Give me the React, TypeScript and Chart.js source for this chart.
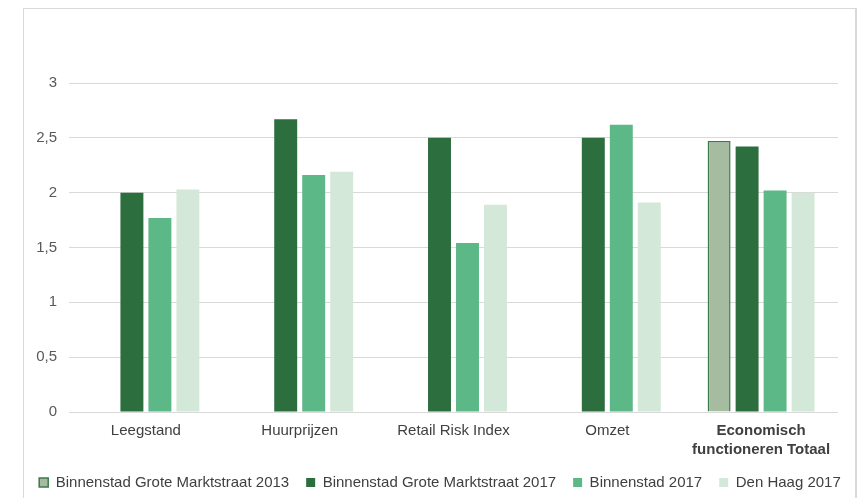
import React, { useEffect, useRef } from 'react';
import { Chart, registerables } from 'chart.js';

Chart.register(...registerables);

const categories: (string | string[])[] = [
  'Leegstand',
  'Huurprijzen',
  'Retail Risk Index',
  'Omzet',
  ['Economisch', 'functioneren Totaal'],
];

const seriesNames = [
  'Binnenstad Grote Marktstraat 2013',
  'Binnenstad Grote Marktstraat 2017',
  'Binnenstad 2017',
  'Den Haag 2017',
];

const grote2013: (number | null)[] = [null, null, null, null, 2.47];
const grote2017 = [2.0, 2.67, 2.5, 2.5, 2.42];
const binnenstad2017 = [1.77, 2.16, 1.54, 2.62, 2.02];
const denHaag2017 = [2.03, 2.19, 1.89, 1.91, 2.0];

const yTicks = [0, 0.5, 1, 1.5, 2, 2.5, 3];

const FONT = "'Liberation Sans', Arial, Helvetica, sans-serif";

export default function App() {
  const ref = useRef<HTMLCanvasElement | null>(null);

  useEffect(() => {
    if (!ref.current) return;
    const chart = new Chart(ref.current, {
      type: 'bar',
      data: {
        labels: categories,
        datasets: [
          {
            label: seriesNames[0],
            data: grote2013,
            backgroundColor: '#a6bca1',
            borderColor: '#3b7a4a',
            borderWidth: 1.5,
          },
          {
            label: seriesNames[1],
            data: grote2017,
            backgroundColor: '#2d6e3f',
            borderWidth: 0,
          },
          {
            label: seriesNames[2],
            data: binnenstad2017,
            backgroundColor: '#5db887',
            borderWidth: 0,
          },
          {
            label: seriesNames[3],
            data: denHaag2017,
            backgroundColor: '#d4e8d9',
            borderWidth: 0,
          },
        ],
      },
      options: {
        responsive: false,
        maintainAspectRatio: false,
        animation: false,
        datasets: {
          bar: {
            categoryPercentage: 0.728,
            barPercentage: 0.82,
          },
        },
        layout: {
          padding: { left: 12, right: 0, top: 83, bottom: -2 },
        },
        scales: {
          x: {
            grid: { display: false, drawTicks: false },
            border: { display: false },
            ticks: {
              padding: 9,
              maxRotation: 0,
              autoSkip: false,
              color: '#404040',
              font: (ctx: any) =>
                ctx.index === 4
                  ? { family: FONT, size: 15, weight: 'bold', lineHeight: 1.3 }
                  : { family: FONT, size: 15, weight: 'normal', lineHeight: 1.3 },
            },
            afterFit: (scale: any) => {
              scale.height = 46;
            },
          },
          y: {
            min: 0,
            max: 3,
            afterBuildTicks: (scale: any) => {
              scale.ticks = yTicks.map((v) => ({ value: v }));
            },
            grid: { color: '#d9d9d9', lineWidth: 1, drawTicks: false },
            border: { display: false },
            ticks: {
              padding: 12,
              color: '#595959',
              font: { family: FONT, size: 15 },
              callback: (v: any) => String(v).replace('.', ','),
            },
            afterFit: (scale: any) => {
              scale.width = 57;
            },
          },
          yRight: {
            type: 'linear',
            position: 'right',
            display: true,
            grid: { display: false, drawTicks: false },
            border: { display: false },
            ticks: { display: false },
            afterFit: (scale: any) => {
              scale.width = 30;
            },
          },
        },
        plugins: {
          title: { display: false },
          tooltip: { enabled: false },
          legend: {
            position: 'bottom',
            labels: {
              boxWidth: 9,
              boxHeight: 9,
              padding: 17,
              color: '#404040',
              font: { family: FONT, size: 15 },
            },
          },
        },
      },
    });
    return () => chart.destroy();
  }, []);

  return (
    <div style={{ position: 'fixed', left: 0, top: 0, width: 868, height: 498, background: '#ffffff', overflow: 'hidden' }}>
      <div
        style={{
          position: 'absolute',
          left: 23,
          top: 8,
          width: 834,
          height: 520,
          border: '1px solid #d9d9d9',
          borderRightWidth: 2,
          boxSizing: 'border-box',
        }}
      />
      <canvas ref={ref} width={868} height={498} style={{ position: 'absolute', left: 0, top: 0 }} />
    </div>
  );
}
